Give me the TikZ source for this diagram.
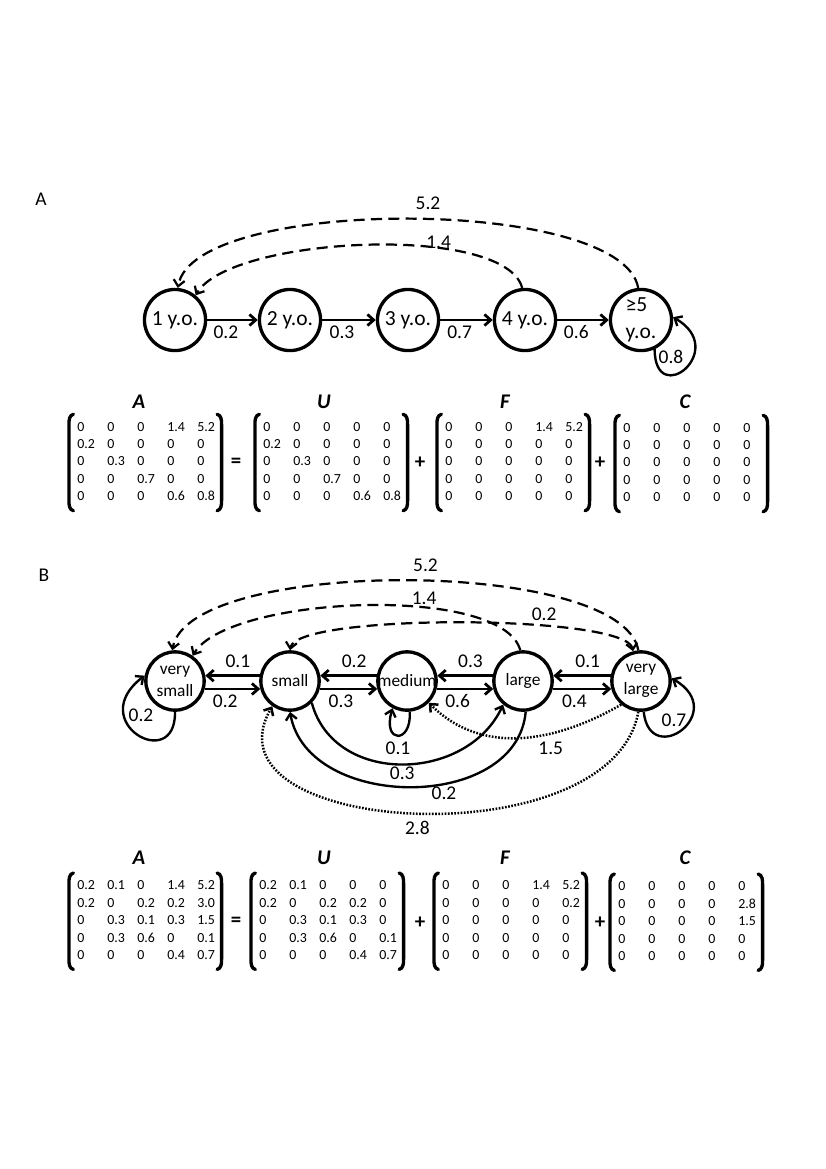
\documentclass[tikz,border=0pt]{standalone}
\usepackage{fontspec}
\setmainfont{Carlito}
\usepackage{tikz}
\usetikzlibrary{arrows.meta}

\newcommand{\mtx}[1]{\setlength{\tabcolsep}{0pt}%
  \begin{tabular}{@{}*{5}{p{21.6pt}}@{}}#1\end{tabular}}
\newcommand{\matparens}[1]{
  \draw[paren] ([xshift=-2.6pt,yshift=3.3pt]#1.north west) to[out=195,in=90]
               ([xshift=-5.8pt,yshift=-4pt]#1.north west) --
               ([xshift=-5.8pt,yshift=4pt]#1.south west) to[out=-90,in=165]
               ([xshift=-2.6pt,yshift=-3.3pt]#1.south west);
  \draw[paren] ([xshift=-7.5pt,yshift=3.3pt]#1.north east) to[out=-15,in=90]
               ([xshift=-4.3pt,yshift=-4pt]#1.north east) --
               ([xshift=-4.3pt,yshift=4pt]#1.south east) to[out=-90,in=15]
               ([xshift=-7.5pt,yshift=-3.3pt]#1.south east);
}

\begin{document}
\begin{tikzpicture}[x=0.72pt,y=0.72pt,every node/.style={inner sep=0pt},
   >={Straight Barb[length=4.5pt,width=8pt]},
   agebox/.style={circle,draw=black,line width=2.4pt,minimum size=44pt,font=\fontsize{15.5}{19}\selectfont},
   sizebox/.style={circle,draw=black,line width=2.4pt,minimum size=42pt,align=center,font=\fontsize{12.5}{16}\selectfont},
   trans/.style={->,draw=black,line width=2pt},
   selfarc/.style={->,draw=black,line width=1.7pt},
   fert/.style={->,draw=black,line width=1.6pt,dash pattern=on 8pt off 4.5pt},
   clon/.style={->,draw=black,line width=1.8pt,dash pattern=on 1.2pt off 1.1pt},
   ratelab/.style={font=\fontsize{14}{16}\selectfont},
   panel/.style={font=\fontsize{14}{16}\selectfont},
   ttl/.style={font=\fontsize{15}{18}\selectfont\bfseries\itshape},
   sign/.style={font=\fontsize{15}{18}\selectfont\bfseries},
   matbox/.style={anchor=west,font=\fontsize{10}{12.5}\selectfont},
   paren/.style={line width=2.4pt,line cap=round}]

 \useasboundingbox (0,0) rectangle (826,-1169);

 % panel A: ages
 \node[panel] (labA) at (41,-199) {A};

 \draw (175,-320)  node[agebox] (A1) {1 y.o.};
 \draw (290,-320)  node[agebox] (A2) {2 y.o.};
 \draw (408,-320)  node[agebox] (A3) {3 y.o.};
 \draw (525,-320)  node[agebox] (A4) {4 y.o.};
 \draw (641,-320)  node[agebox,align=left] (A5) {≥5\\y.o.};

 \draw[trans] (A1) -- (A2) node[pos=0.37,below=3pt,ratelab] {0.2};
 \draw[trans] (A2) -- (A3) node[pos=0.37,below=3pt,ratelab] {0.3};
 \draw[trans] (A3) -- (A4) node[pos=0.37,below=3pt,ratelab] {0.7};
 \draw[trans] (A4) -- (A5) node[pos=0.37,below=3pt,ratelab] {0.6};

 \draw[selfarc] (A5.-65) .. controls (655,-410) and (730,-350) .. (A5.5);
 \node[ratelab] (rA5) at (671,-357) {0.8};

 \draw[fert] (A5.95) to[out=100,in=80,looseness=0.52]
    node[pos=0.47,above=6pt,ratelab] {5.2} (A1.85);
 \draw[fert] (A4.95) to[out=105,in=60,looseness=0.53]
    node[pos=0.33,above=-1pt,ratelab] {1.4} (A1.50);

 % panel A: matrices
 \node[ttl] (tAA) at (139,-402) {A};
 \node[ttl] (tUA) at (324,-402) {U};
 \node[ttl] (tFA) at (505,-402) {F};
 \node[ttl] (tCA) at (685,-402) {C};

 \node[matbox] (mAA) at (77,-462.5) {\mtx{0&0&0&1.4&5.2\\0.2&0&0&0&0\\0&0.3&0&0&0\\0&0&0.7&0&0\\0&0&0&0.6&0.8}};
 \matparens{mAA}
 \node[sign] (eqA) at (236,-463) {=};
 \node[matbox] (mUA) at (263,-462.5) {\mtx{0&0&0&0&0\\0.2&0&0&0&0\\0&0.3&0&0&0\\0&0&0.7&0&0\\0&0&0&0.6&0.8}};
 \matparens{mUA}
 \node[sign] (plA1) at (420,-463) {+};
 \node[matbox] (mFA) at (445,-462.5) {\mtx{0&0&0&1.4&5.2\\0&0&0&0&0\\0&0&0&0&0\\0&0&0&0&0\\0&0&0&0&0}};
 \matparens{mFA}
 \node[sign] (plA2) at (600,-463) {+};
 \node[matbox] (mCA) at (623,-463.5) {\mtx{0&0&0&0&0\\0&0&0&0&0\\0&0&0&0&0\\0&0&0&0&0\\0&0&0&0&0}};
 \matparens{mCA}

 % panel B: sizes
 \node[panel] (labB) at (44,-575) {B};

 \draw (175,-681)  node[sizebox] (B1) {very\\small};
 \draw (290,-681)  node[sizebox] (B2) {small};
 \draw (407,-681)  node[sizebox] (B3) {\makebox[0pt]{medium}};
 \draw (523,-681)  node[sizebox] (B4) {large};
 \draw (641,-681)  node[sizebox] (B5) {very\\large};

 \draw[trans] (B2.170) -- (B1.10) node[pos=0.4,above=5pt,ratelab] {0.1};
 \draw[trans] (B1.-15) -- (B2.195) node[pos=0.37,below=3pt,ratelab] {0.2};
 \draw[trans] (B3.170) -- (B2.10) node[pos=0.4,above=5pt,ratelab] {0.2};
 \draw[trans] (B2.-15) -- (B3.195) node[pos=0.37,below=3pt,ratelab] {0.3};
 \draw[trans] (B4.170) -- (B3.10) node[pos=0.4,above=5pt,ratelab] {0.3};
 \draw[trans] (B3.-15) -- (B4.195) node[pos=0.37,below=3pt,ratelab] {0.6};
 \draw[trans] (B5.170) -- (B4.10) node[pos=0.4,above=5pt,ratelab] {0.1};
 \draw[trans] (B4.-15) -- (B5.195) node[pos=0.37,below=3pt,ratelab] {0.4};

 \draw[selfarc] (B1.-90) .. controls (176,-774) and (84,-722) .. (B1.170);
 \node[ratelab] (rB1) at (141,-715) {0.2};
 \draw[selfarc] (B3.-85) .. controls (412,-744) and (382,-744) .. (B3.-118);
 \node[ratelab] (rB3) at (398,-748) {0.1};
 \draw[selfarc] (B5.-85) .. controls (650,-770) and (730,-712) .. (B5.5);
 \node[ratelab] (rB5) at (674,-720) {0.7};

 \draw[selfarc] (B2.-45) to[out=-75,in=-115,looseness=1.15]
    node[pos=0.5,below=1pt,ratelab] {0.3} (B4.-130);
 \draw[selfarc] (B4.-85) to[out=-95,in=-80,looseness=1.1]
    node[pos=0.4,below=1pt,ratelab] {0.2} (B2.-90);

 \draw[clon] (B5.-130) to[out=-150,in=-45,looseness=1]
    node[pos=0.35,below=5pt,ratelab] {1.5} (B3.-45);
 \draw[clon] (B5.-95) to[out=-100,in=-120,looseness=1.05]
    node[pos=0.5,below=4.5pt,ratelab] {2.8} (B2.-125);

 \draw[fert] (B5.95) to[out=100,in=80,looseness=0.52]
    node[pos=0.47,above=6pt,ratelab] {5.2} (B1.95);
 \draw[fert] (B4.95) to[out=105,in=60,looseness=0.54]
    node[pos=0.36,above=1pt,ratelab] {1.4} (B1.55);
 \draw[fert,<->] (B5.105) to[out=100,in=80,looseness=0.28]
    node[pos=0.33,above=3.5pt,ratelab] {0.2} (B2.90);

 % panel B: matrices
 \node[ttl] (tAB) at (139,-858) {A};
 \node[ttl] (tUB) at (324,-858) {U};
 \node[ttl] (tFB) at (505,-858) {F};
 \node[ttl] (tCB) at (685,-858) {C};

 \node[matbox] (mAB) at (77,-921.2) {\mtx{0.2&0.1&0&1.4&5.2\\0.2&0&0.2&0.2&3.0\\0&0.3&0.1&0.3&1.5\\0&0.3&0.6&0&0.1\\0&0&0&0.4&0.7}};
 \matparens{mAB}
 \node[sign] (eqB) at (236,-922) {=};
 \node[matbox] (mUB) at (259,-921.2) {\mtx{0.2&0.1&0&0&0\\0.2&0&0.2&0.2&0\\0&0.3&0.1&0.3&0\\0&0.3&0.6&0&0.1\\0&0&0&0.4&0.7}};
 \matparens{mUB}
 \node[sign] (plB1) at (420,-923) {+};
 \node[matbox] (mFB) at (442,-921.2) {\mtx{0&0&0&1.4&5.2\\0&0&0&0&0.2\\0&0&0&0&0\\0&0&0&0&0\\0&0&0&0&0}};
 \matparens{mFB}
 \node[sign] (plB2) at (600,-923) {+};
 \node[matbox] (mCB) at (618,-922.2) {\mtx{0&0&0&0&0\\0&0&0&0&2.8\\0&0&0&0&1.5\\0&0&0&0&0\\0&0&0&0&0}};
 \matparens{mCB}

\end{tikzpicture}
\end{document}
